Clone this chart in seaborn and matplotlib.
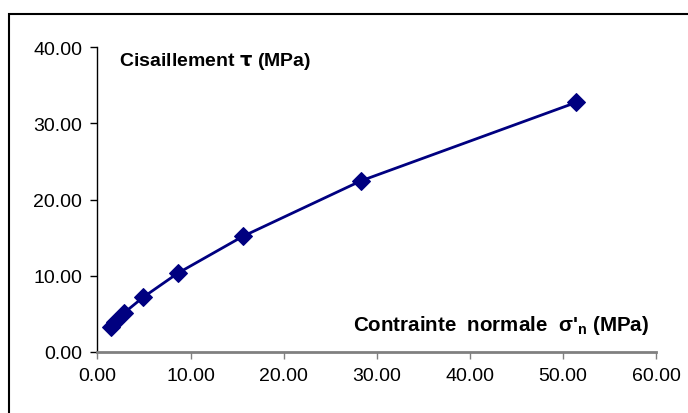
import matplotlib
matplotlib.use("Agg")
import matplotlib.pyplot as plt
import seaborn as sns
import pandas as pd
from matplotlib.patches import Rectangle

# Normal stress (MPa) and shear stress (MPa)
sigma_n = [1.4, 1.9, 2.9, 4.9, 8.6, 15.6, 28.3, 51.4]
tau = [3.2, 3.85, 5.15, 7.15, 10.3, 15.15, 22.45, 32.75]

x_ticks = [0, 10, 20, 30, 40, 50, 60]
y_ticks = [0, 10, 20, 30, 40]

sns.set_style("white")
plt.rcParams["font.family"] = ["Liberation Sans", "DejaVu Sans"]
plt.rcParams["text.color"] = "black"

df = pd.DataFrame({"sigma": sigma_n, "tau": tau})

fig = plt.figure(figsize=(6.88, 4.14), dpi=100)
ax = fig.add_axes([0.1417, 0.148, 0.8118, 0.7353])

sns.lineplot(data=df, x="sigma", y="tau", ax=ax, color="#000080",
             linewidth=2, marker="D", markersize=9.5,
             markeredgecolor="#000080", sort=False)

ax.set_xlim(0, 60)
ax.set_ylim(0, 40)
ax.set_xticks(x_ticks)
ax.set_yticks(y_ticks)
ax.set_xticklabels([f"{v:.2f}" for v in x_ticks])
ax.set_yticklabels([f"{v:.2f}" for v in y_ticks])
ax.tick_params(axis="both", direction="out", length=5, width=1,
               labelsize=14, colors="black", pad=6, left=True, bottom=True)
ax.tick_params(axis="x", color="#808080")
ax.set_xlabel("")
ax.set_ylabel("")

for side in ("top", "right"):
    ax.spines[side].set_visible(False)
ax.spines["left"].set_color("black")
ax.spines["left"].set_linewidth(1)
ax.spines["bottom"].set_color("#808080")
ax.spines["bottom"].set_linewidth(2)

ax.text(0.039, 0.957, r"Cisaillement $\mathbf{\tau}$ (MPa)", transform=ax.transAxes,
        fontsize=14, fontweight="bold", ha="left", va="center", color="black")
ax.text(0.987, 0.09, "Contrainte  normale  σ'$_\\mathregular{n}$ (MPa)",
        transform=ax.transAxes, fontsize=14.8, fontweight="bold",
        ha="right", va="center", color="black")

# chart area border
fig.patches.append(Rectangle((9 / 688, -0.05), 1.0, 1 - 15 / 414 + 0.05,
                             transform=fig.transFigure, fill=False,
                             edgecolor="black", linewidth=1.5))

fig.savefig("out.png", dpi=100)
